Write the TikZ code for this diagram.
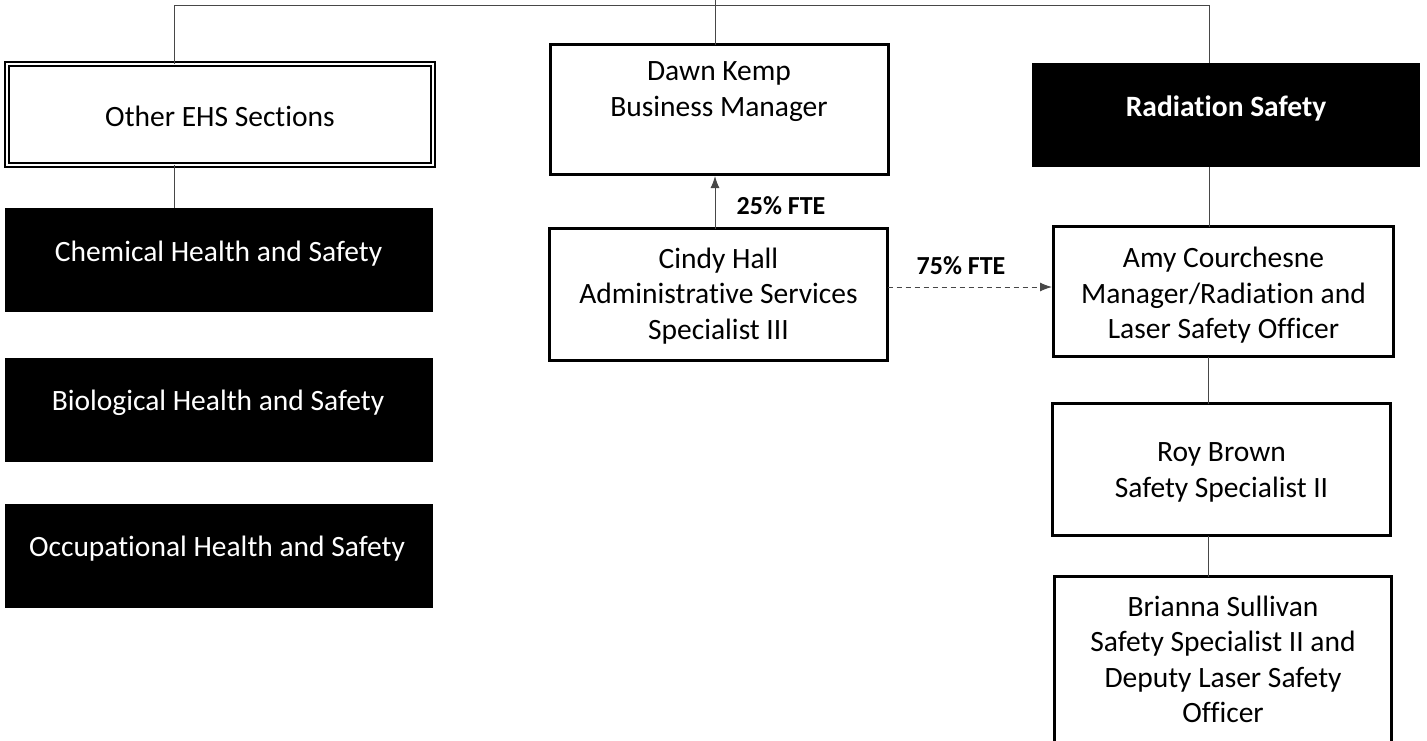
\documentclass[tikz,border=0pt]{standalone}
\usepackage{fontspec}
\setmainfont{Carlito}[Ligatures=NoCommon]
\usetikzlibrary{arrows.meta}
\begin{document}
\begin{tikzpicture}[x=1pt,y=-1pt,
  conn/.style={draw=black!72, line width=1pt},
  arr/.style={conn, -{Latex[length=12pt,width=9pt]}, shorten >=1.5pt},
  wbox/.style={draw=black, line width=3pt, fill=white, inner sep=0pt, outer sep=0pt},
  bbox/.style={fill=black, inner sep=0pt, outer sep=0pt},
  dbox/.style={draw=black, line width=2.2pt, double=white, double distance=2pt, fill=white, inner sep=0pt, outer sep=0pt},
  txt/.style={align=center, inner sep=0pt, yshift=-4.5pt, font=\fontsize{29.5}{35.5}\selectfont,
    execute at begin node=\strut, execute at end node=\strut},
  wtxt/.style={txt, text=white},
  lbl/.style={inner sep=0pt, yshift=-1pt, font=\fontsize{26}{30}\selectfont\bfseries}
]
\useasboundingbox (0,0) rectangle (1427,740);
\clip (0,0) rectangle (1427,740);

% boxes
\node[dbox, minimum width=425.6pt, minimum height=100.6pt] (other) at (220,114.5) {};
\node[txt] (otherT) at (220,114.5) {Other EHS Sections};
\node[bbox, minimum width=428pt, minimum height=104pt] (chem) at (219,260) {};
\node[bbox, minimum width=428pt, minimum height=104pt] (bio) at (219,410) {};
\node[bbox, minimum width=428pt, minimum height=104pt] (occ) at (219,556) {};
\node[wtxt] (chemT) at (218.5,250) {Chemical Health and Safety};
\node[wtxt] (bioT) at (218,399) {Biological Health and Safety};
\node[wtxt] (occT) at (217,545) {Occupational Health and Safety};

\node[wbox, minimum width=338pt, minimum height=130pt] (dawn) at (719.5,109.5) {};
\node[txt] (dawnT) at (719,90) {Dawn Kemp\\Business Manager};
\node[wbox, minimum width=338pt, minimum height=132pt] (cindy) at (718.5,294.5) {};
\node[txt] (cindyT) at (718.5,294.5) {Cindy Hall\\Administrative Services\\Specialist III};

\node[bbox, minimum width=388pt, minimum height=104pt] (rad) at (1226,115) {};
\node[wtxt, font=\fontsize{29.5}{35.5}\selectfont\bfseries] (radT) at (1226,105) {Radiation Safety};
\node[wbox, minimum width=340pt, minimum height=130pt] (amy) at (1223.5,291.5) {};
\node[txt] (amyT) at (1223.5,294) {Amy Courchesne\\Manager/Radiation and\\Laser Safety Officer};
\node[wbox, minimum width=338pt, minimum height=132pt] (roy) at (1221.5,469.5) {};
\node[txt] (royT) at (1221.5,471) {Roy Brown\\Safety Specialist II};
\node[wbox, minimum width=337pt, minimum height=202pt] (brianna) at (1223,677.5) {};
\node[txt] (brianT) at (1223,660) {Brianna Sullivan\\Safety Specialist II and\\Deputy Laser Safety\\Officer};

% connectors
\coordinate (jL) at (174,5);
\coordinate (jR) at (1209,5);
\coordinate (jC) at (715,5);
\coordinate (top) at (715,0);
\coordinate (jR2) at (1208,5);
\draw[conn] (jL) -- (jR);
\draw[conn] (top) -- (top |- dawn.north);
\draw[conn] (jL) -- (jL |- other.north);
\draw[conn] (jR) -- (jR |- rad.north);
\draw[conn] (jL |- other.south) -- (jL |- chem.north);
\draw[conn] (jR |- rad.south) -- (jR |- amy.north);
\draw[conn] (jR2 |- amy.south) -- (jR2 |- roy.north);
\draw[conn] (jR2 |- roy.south) -- (jR2 |- brianna.north);

\draw[arr] (jC |- cindy.north) -- (jC |- dawn.south);
\node[lbl] (l25) at (781,205) {25\% FTE};
\coordinate (d75) at (889,287);
\draw[arr, dash pattern=on 5pt off 4pt] (d75 -| cindy.east) -- (d75 -| amy.west);
\node[lbl] (l75) at (961,265) {75\% FTE};
\end{tikzpicture}
\end{document}
